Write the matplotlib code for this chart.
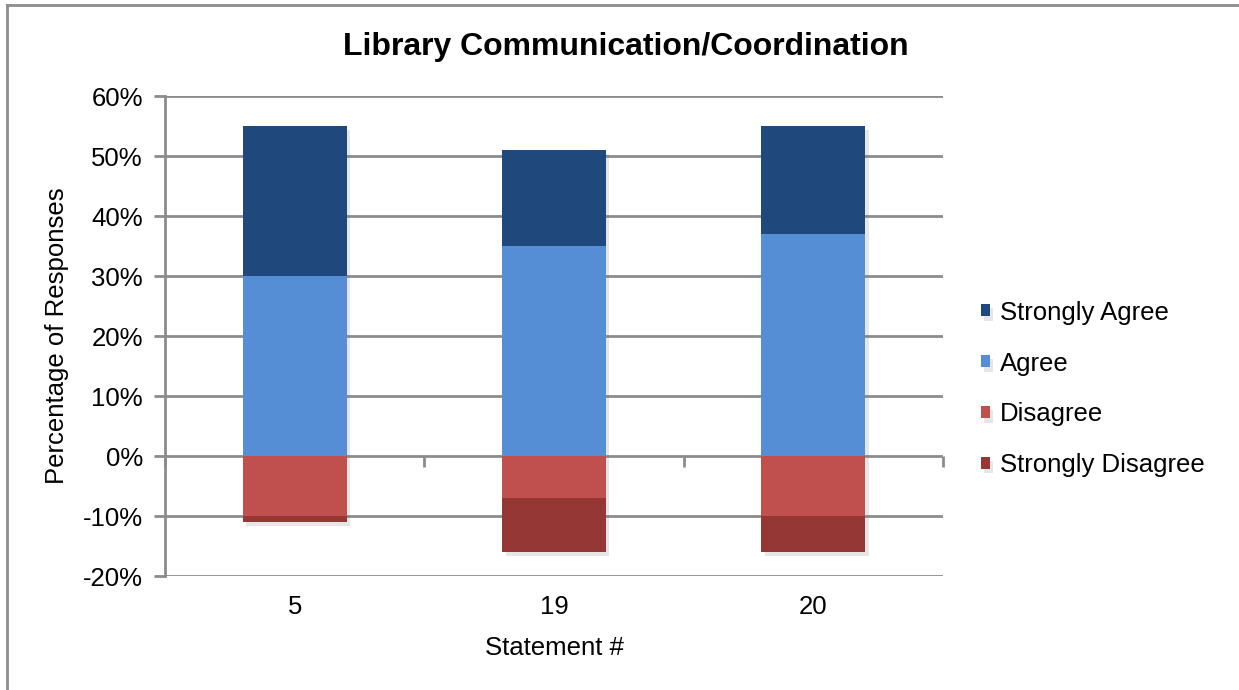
import matplotlib
matplotlib.use("Agg")
import matplotlib.pyplot as plt
from matplotlib import patheffects as pe
from matplotlib.lines import Line2D
from matplotlib.ticker import FuncFormatter
import numpy as np

# Survey responses per statement, in percent
statements = ["5", "19", "20"]
strongly_agree = [25, 16, 18]
agree = [30, 35, 37]
disagree = [-10, -7, -10]
strongly_disagree = [-1, -9, -6]

series_labels = ["Strongly Agree", "Agree", "Disagree", "Strongly Disagree"]
colors = {
    "Strongly Agree": "#1F497D",
    "Agree": "#558ED5",
    "Disagree": "#C0504D",
    "Strongly Disagree": "#953735",
}

plt.rcParams["font.family"] = ["Liberation Sans", "DejaVu Sans"]
grid_col = "#8C8C8C"
fs = 18.5

fig = plt.figure(figsize=(12.39, 6.90), dpi=100)
ax = fig.add_axes([165 / 1239, 1 - 576 / 690, (943 - 165) / 1239, (576 - 96) / 690])

x = np.arange(len(statements))
w = 0.4
shadow = [pe.SimplePatchShadow(offset=(2.5, -3), shadow_rgbFace="#777777", alpha=0.18), pe.Normal()]

sa = np.array(strongly_agree)
ag = np.array(agree)
di = np.array(disagree)
sd = np.array(strongly_disagree)

h_sa = ax.bar(x, sa, w, bottom=ag, color=colors["Strongly Agree"], zorder=3, path_effects=shadow)
h_ag = ax.bar(x, ag, w, color=colors["Agree"], zorder=3, path_effects=shadow)
h_di = ax.bar(x, di, w, color=colors["Disagree"], zorder=3, path_effects=shadow)
h_sd = ax.bar(x, sd, w, bottom=di, color=colors["Strongly Disagree"], zorder=3, path_effects=shadow)

ax.set_xlim(-0.5, len(statements) - 0.5)
ax.set_ylim(-20, 60)
ax.set_yticks(np.arange(-20, 61, 10))
ax.yaxis.set_major_formatter(FuncFormatter(lambda v, p: f"{v:.0f}%"))
ax.yaxis.grid(True, color=grid_col, linewidth=2, zorder=1)
ax.set_axisbelow(True)

for s in ["top", "right", "bottom"]:
    ax.spines[s].set_visible(False)
ax.spines["left"].set_color(grid_col)
ax.spines["left"].set_linewidth(2)

ax.tick_params(axis="y", length=8, width=2, color=grid_col, labelsize=fs, pad=8)
ax.set_xticks(x)
ax.set_xticklabels(statements)
ax.tick_params(axis="x", length=0, labelsize=fs, pad=14)

# category separators on the zero line
sec = ax.secondary_xaxis(0.25)
sec.set_xticks(np.arange(-0.5, len(statements), 1.0))
sec.tick_params(axis="x", length=8, width=2, color=grid_col, labelbottom=False, direction="out")
sec.spines["bottom"].set_visible(False)

ax.set_xlabel("Statement #", fontsize=fs, labelpad=12)
ax.set_ylabel("Percentage of Responses", fontsize=fs, labelpad=10)

fig.text(626 / 1239, 1 - 47 / 690, "Library Communication/Coordination",
         ha="center", va="center", fontsize=23, fontweight="bold")

handles = [h_sa, h_ag, h_di, h_sd]
leg = fig.legend(handles, series_labels, loc="center left",
                 bbox_to_anchor=(968 / 1239, 1 - 389 / 690), frameon=False,
                 fontsize=fs, handlelength=0.35, handleheight=0.35,
                 handletextpad=0.4, labelspacing=1.05, borderpad=0)

# outer frame lines
fig.add_artist(Line2D([7 / 1239, 7 / 1239], [0, 1 - 5 / 690], transform=fig.transFigure,
                      color=grid_col, linewidth=2))
fig.add_artist(Line2D([7 / 1239, 1], [1 - 5 / 690, 1 - 5 / 690], transform=fig.transFigure,
                      color=grid_col, linewidth=2))

fig.savefig("out.png", dpi=100, facecolor="white")
